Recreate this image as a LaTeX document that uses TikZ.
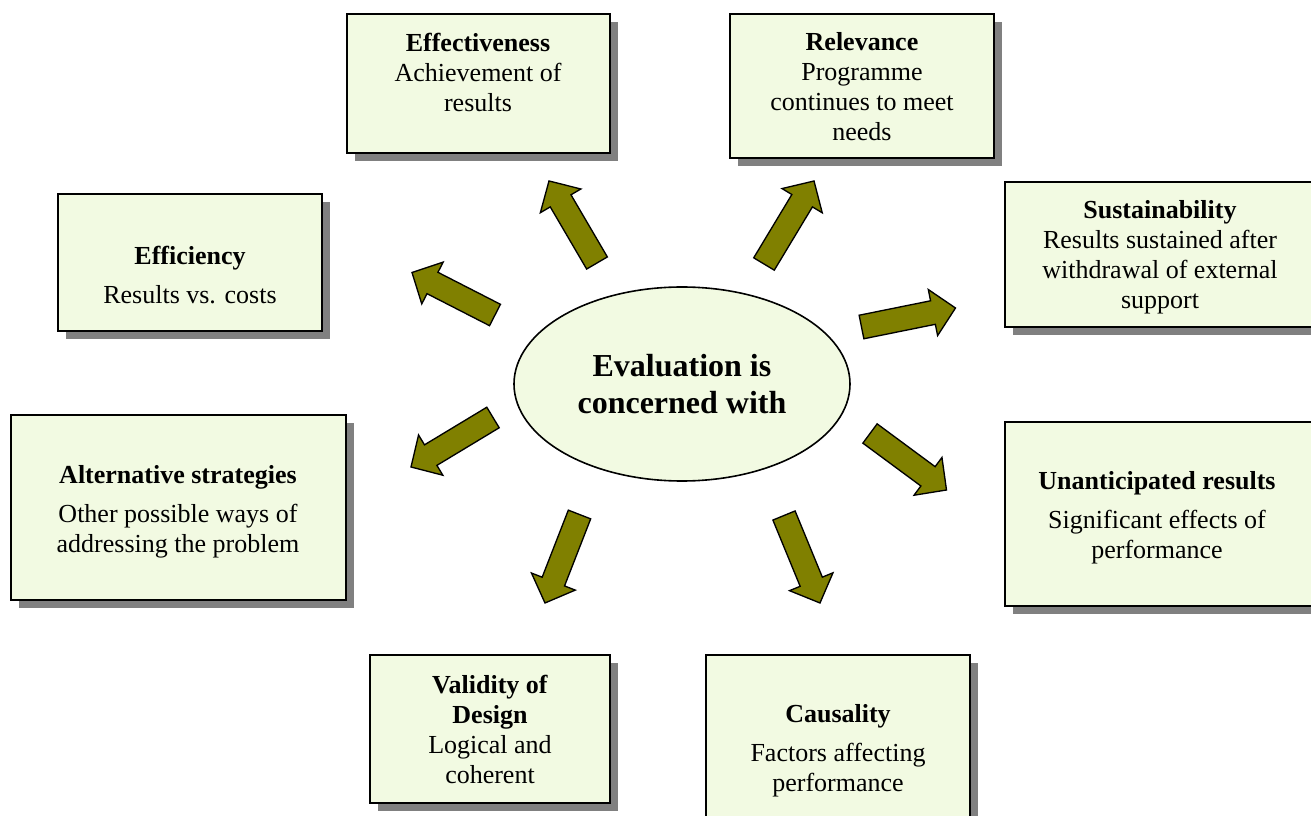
\documentclass[tikz,border=0pt]{standalone}
\usepackage{fontspec}
\setmainfont{Liberation Serif}
\usetikzlibrary{shapes.geometric,shadows}
\definecolor{boxfill}{HTML}{F2FAE2}
\definecolor{olivearrow}{HTML}{808000}
\tikzset{
  boxnode/.style={draw=black, line width=1.3pt, fill=boxfill, inner sep=0pt, outer sep=0pt,
    drop shadow={shadow xshift=6pt, shadow yshift=-6pt, fill=black!50, opacity=1}},
  txt/.style={align=center, font=\fontsize{19.5}{22.5}\selectfont, inner sep=0pt},
  arrowshape/.style={draw=black, line width=1pt, fill=olivearrow, line join=miter},
}
\newcommand{\boxat}[5]{%
  \node[boxnode, minimum width={(#4-#2)*0.75pt}, minimum height={(#5-#3)*0.75pt}] (#1) at ({(#2+#4)/2},{(#3+#5)/2}) {};}
\newcommand{\blockarrow}[4]{%
  \pgfmathsetmacro\bdx{#3-#1}\pgfmathsetmacro\bdy{#4-#2}%
  \pgfmathsetmacro\blen{sqrt(\bdx*\bdx+\bdy*\bdy)}%
  \pgfmathsetmacro\bang{atan2(-\bdy,\bdx)}%
  \draw[arrowshape, shift={(#1,#2)}, rotate=\bang] (0,-12) -- ({\blen-23},-12) -- ({\blen-23},-23.5) -- (\blen,0) -- ({\blen-23},23.5) -- ({\blen-23},12) -- (0,12) -- cycle;}
\begin{document}
\begin{tikzpicture}[x=0.75pt,y=-0.75pt]
\useasboundingbox (0,0) rectangle (1311,816);
\clip (0,0) rectangle (1311,816);
\fill[white] (0,0) rectangle (1311,816);

% boxes
\boxat{eff}{347}{14}{610}{153}
\boxat{rel}{730}{14}{994}{158}
\boxat{sus}{1005}{182}{1322}{327}
\boxat{efi}{58}{194}{322}{331}
\boxat{alt}{11}{415}{346}{600}
\boxat{una}{1005}{422}{1322}{606}
\boxat{val}{370}{655}{610}{803}
\boxat{cau}{706}{655}{970}{830}

% texts
\node[txt] (eff-t) at (478,72) {\textbf{Effectiveness}\\Achievement of\\results};
\node[txt] (rel-t) at (862,87) {\textbf{Relevance}\\Programme\\continues to meet\\needs};
\node[txt] (sus-t) at (1160,257) {\textbf{Sustainability}\\Results sustained after\\withdrawal of external\\support};
\node[txt] (efi-t) at (190,275) {\textbf{Efficiency}\\[7pt]Results vs. costs};
\node[txt] (alt-t) at (178,512) {\textbf{Alternative strategies}\\[7pt]Other possible ways of\\addressing the problem};
\node[txt] (una-t) at (1157,518) {\textbf{Unanticipated results}\\[7pt]Significant effects of\\performance};
\node[txt] (val-t) at (490,729) {\textbf{Validity of}\\\textbf{Design}\\Logical and\\coherent};
\node[txt] (cau-t) at (838,751) {\textbf{Causality}\\[7pt]Factors affecting\\performance};

% centre ellipse
\node[ellipse, draw=black, line width=1.2pt, fill=boxfill, minimum width=252pt, minimum height=145.5pt, inner sep=0pt,
  align=center, font=\fontsize{24}{27.75}\selectfont\bfseries] (ctr) at (682,384) {Evaluation is\\concerned with};

% block arrows
\blockarrow{597}{263}{549}{181}
\blockarrow{764}{264}{814}{181}
\blockarrow{861.5}{327}{955.5}{308}
\blockarrow{870}{433.5}{946.5}{490}
\blockarrow{784}{515.5}{820}{603}
\blockarrow{579.5}{514.5}{545}{603}
\blockarrow{493}{417.5}{411}{467}
\blockarrow{495}{315}{412}{272.5}
\end{tikzpicture}
\end{document}
